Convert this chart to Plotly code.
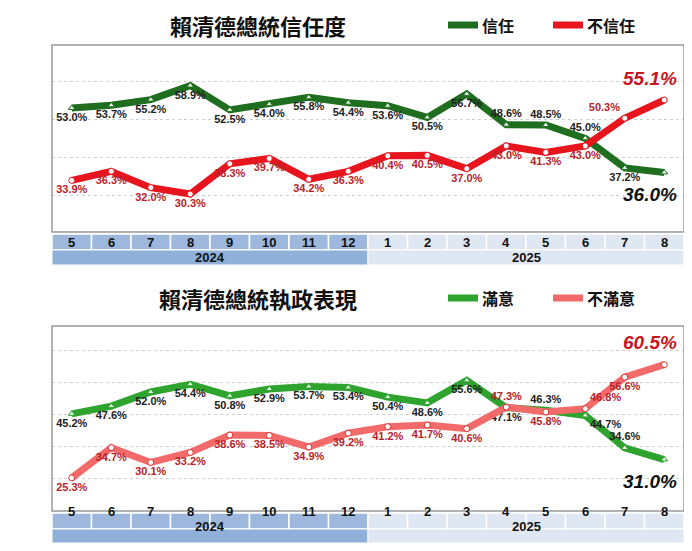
import plotly.graph_objects as go

months = ["5","6","7","8","9","10","11","12","1","2","3","4","5","6","7","8"]
years = ["2024", "2025"]
trust = [53.0,53.7,55.2,58.9,52.5,54.0,55.8,54.4,53.6,50.5,56.7,48.6,48.5,45.0,37.2,36.0]
distrust = [33.9,36.3,32.0,30.3,38.3,39.7,34.2,36.3,40.4,40.5,37.0,43.0,41.3,43.0,50.3,55.1]
satisfied = [45.2,47.6,52.0,54.4,50.8,52.9,53.7,53.4,50.4,48.6,55.6,47.1,46.3,44.7,34.6,31.0]
dissatisfied = [25.3,34.7,30.1,33.2,38.6,38.5,34.9,39.2,41.2,41.7,40.6,47.3,45.8,46.8,56.6,60.5]

W, H = 692, 551
def py(p): return 1 - p / H
X0, X1 = 44 / W, 676 / W
xs = list(range(len(months)))

fig = go.Figure()
FONT = "Liberation Sans"
CJK = "Noto Sans CJK TC"

def pos_list(n, above=(), right=(), rtop=(), ltop=()):
    out = []
    for i in range(n):
        if i in right: out.append("bottom right")
        elif i in rtop: out.append("top right")
        elif i in ltop: out.append("top left")
        elif i in above: out.append("top center")
        else: out.append("bottom center")
    return out

def add_series(vals, ax, color, lw, symbol, mcolor, mline, tcolor, tpos, big_color):
    xa = "x" if ax == 1 else "x2"
    ya = "y" if ax == 1 else "y2"
    texts = [f"<b>{v:.1f}%</b>" for v in vals]
    texts[-1] = ""
    fig.add_trace(go.Scatter(x=xs, y=vals, xaxis=xa, yaxis=ya, mode="lines+markers+text",
        line=dict(color=color, width=lw), text=texts, textposition=tpos,
        textfont=dict(family=FONT, size=11, color=tcolor),
        marker=dict(symbol=symbol, size=6, color=mcolor, line=dict(color=mline, width=1)),
        showlegend=False, cliponaxis=False))
    fig.add_annotation(x=xs[-1], y=vals[-1], xref=xa, yref=ya,
        text=f"<b><i>{vals[-1]:.1f}%</i></b>", showarrow=False,
        font=dict(family=FONT, size=19, color=big_color),
        yshift=(22 if big_color != "#111" else -22), xshift=-14)

G1, R1 = "#1f6e1f", "#e8141e"
G2, R2 = "#2ea32e", "#f26a6a"
add_series(trust, 1, G1, 7, "triangle-up", "#e8f5e8", G1, "#222",
           pos_list(16, above=(11, 12, 13)), "#111")
add_series(distrust, 1, R1, 7, "circle", "white", R1, "#b8232a",
           pos_list(16, ltop=(14,)), "#c8141e")
add_series(satisfied, 2, G2, 7, "triangle-up", "#e8f5e8", G2, "#222",
           pos_list(16, above=(12, 14), right=(13,)), "#111")
add_series(dissatisfied, 2, R2, 7, "circle", "white", "#d83030", "#b8232a",
           pos_list(16, above=(11,), rtop=(13,)), "#c8141e")

panels = [
    dict(top=37, bot=224, rng=[20.3, 69.6], grid=[30, 40, 50, 60], title="賴清德總統信任度",
         ty=17, leg=[("信任", G1, "triangle-up"), ("不信任", R1, "circle")], mb=(226, 242, 257)),
    dict(top=318, bot=503, rng=[15, 72.5], grid=[25, 35, 45, 55, 65], title="賴清德總統執政表現",
         ty=290, leg=[("滿意", G2, "triangle-up"), ("不滿意", R2, "circle")], mb=(505, 521, 535)),
]
for k, p in enumerate(panels):
    sfx = "" if k == 0 else "2"
    fig.update_layout(**{
        f"xaxis{sfx}": dict(domain=[X0, X1], range=[-0.5, 15.5], showgrid=False, zeroline=False,
                            showticklabels=False, anchor=f"y{sfx}"),
        f"yaxis{sfx}": dict(domain=[py(p["bot"]), py(p["top"])], range=p["rng"], tickvals=p["grid"],
                            showticklabels=False, gridcolor="#cfcfcf", griddash="dot", zeroline=False,
                            anchor=f"x{sfx}"),
    })
    xr = "x" if k == 0 else "x2"
    fig.add_shape(type="rect", xref="paper", yref="paper", x0=X0, x1=X1, y0=py(p["bot"]), y1=py(p["top"]),
                  line=dict(color="#999", width=1.5), fillcolor="rgba(0,0,0,0)")
    m0, m1, m2 = p["mb"]
    for i, m in enumerate(months):
        fig.add_shape(type="rect", xref=xr, yref="paper", x0=i - 0.5, x1=i + 0.5, y0=py(m1), y1=py(m0),
                      fillcolor="#9db8dc" if i < 8 else "#dfe7f2", line=dict(color="white", width=1.5), layer="below")
        fig.add_annotation(x=i, y=py((m0 + m1) / 2), xref=xr, yref="paper", text=f"<b>{m}</b>",
                           showarrow=False, font=dict(family=FONT, size=13, color="#111"))
    for j, yr in enumerate(years):
        a, b = (-0.5, 7.5) if j == 0 else (7.5, 15.5)
        fig.add_shape(type="rect", xref=xr, yref="paper", x0=a, x1=b, y0=py(m2), y1=py(m1),
                      fillcolor="#8fb0d8" if j == 0 else "#dfe7f2", line=dict(color="white", width=1), layer="below")
        fig.add_annotation(x=(a + b) / 2, y=py((m1 + m2) / 2), xref=xr, yref="paper", text=f"<b>{yr}</b>",
                           showarrow=False, font=dict(family=FONT, size=13, color="#111"))
    fig.add_annotation(x=250 / W, y=py(p["ty"]), xref="paper", yref="paper", text=f"<b>{p['title']}</b>",
                       showarrow=False, yanchor="middle", height=30, valign="middle",
                       font=dict(family=CJK, size=22, color="#111"))
    lx = [440, 545]
    for (name, col, sym), x in zip(p["leg"], lx):
        fig.add_shape(type="line", xref="paper", yref="paper", x0=x / W, x1=(x + 30) / W,
                      y0=py(p["ty"]), y1=py(p["ty"]), line=dict(color=col, width=7))
        fig.add_annotation(x=(x + 32) / W, y=py(p["ty"]), xref="paper", yref="paper", text=f"<b>{name}</b>",
                           xanchor="left", yanchor="middle", height=24, valign="middle", showarrow=False,
                           font=dict(family=CJK, size=16, color="#111"))

fig.update_layout(width=W, height=H, margin=dict(l=0, r=0, t=0, b=0),
                  paper_bgcolor="white", plot_bgcolor="white", showlegend=False)
fig.write_html("out.html")
